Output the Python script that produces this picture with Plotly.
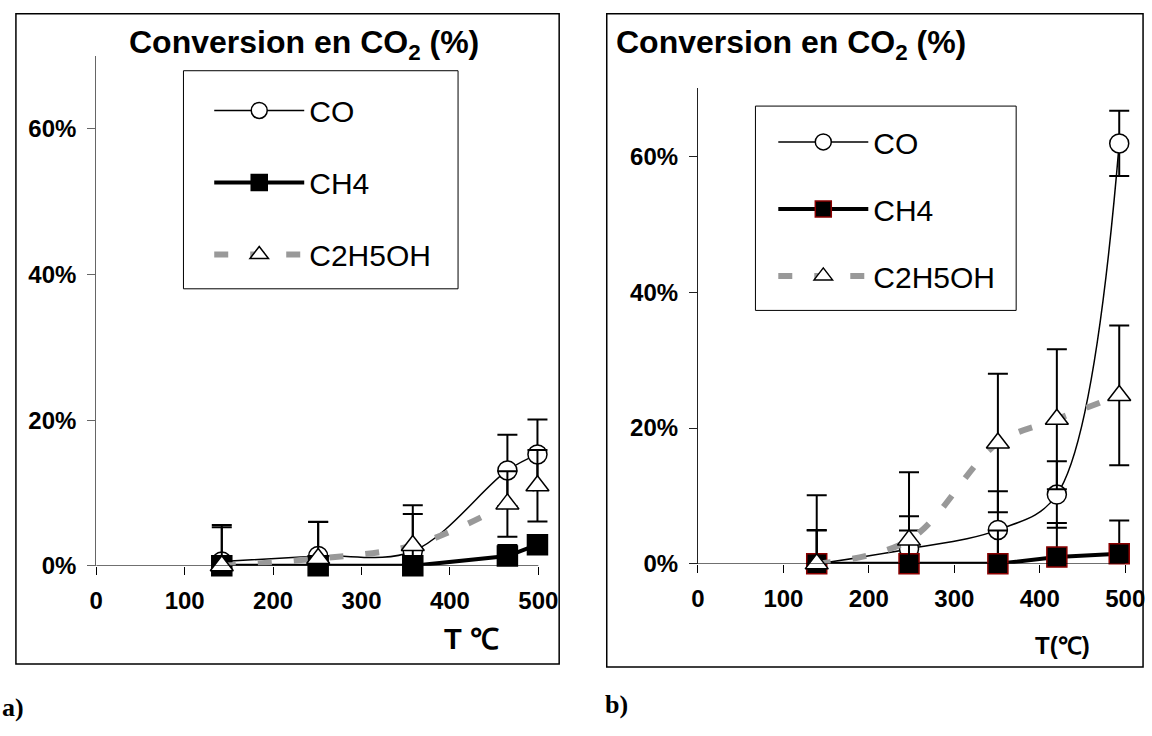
import plotly.graph_objects as go

# ---------------- data ----------------
# Panel a
T_a = [142, 251, 358, 465, 499]
co_a = [0.6, 1.35, 2.0, 13.1, 15.3]
co_a_err_plus = [5.0, 4.7, 6.3, 4.9, 4.8]
co_a_err_minus = [0.6, 1.35, 2.0, 4.9, 4.8]
ch4_a = [0.0, 0.0, 0.0, 1.35, 2.9]
ch4_a_err_plus = [0.0, 0.0, 0.0, 1.5, 1.1]
ch4_a_err_minus = [0.0, 0.0, 0.0, 1.35, 1.1]
eth_a = [0.0, 1.0, 2.8, 8.5, 11.0]
eth_a_err_plus = [5.3, 5.0, 4.3, 4.5, 4.9]
eth_a_err_minus = [0.0, 1.0, 2.8, 4.5, 4.9]

# Panel b
T_b = [139, 247, 351, 420, 493]
co_b = [0.0, 2.2, 5.0, 10.2, 61.9]
co_b_err_plus = [5.0, 4.8, 5.7, 4.9, 4.8]
co_b_err_minus = [0.0, 2.2, 5.0, 4.9, 4.8]
ch4_b = [0.0, 0.0, 0.0, 1.0, 1.5]
ch4_b_err_plus = [4.9, 4.9, 4.9, 5.0, 4.9]
ch4_b_err_minus = [0.0, 0.0, 0.0, 1.0, 1.5]
eth_b = [0.0, 3.5, 17.8, 21.3, 24.8]
eth_b_err_plus = [10.1, 10.0, 10.2, 10.3, 10.3]
eth_b_err_minus = [0.0, 3.5, 10.2, 10.3, 10.3]

series_names = ["CO", "CH4", "C2H5OH"]
x_ticks = [0, 100, 200, 300, 400, 500]
y_ticks = [0, 20, 40, 60]
y_tick_labels = ["0%", "20%", "40%", "60%"]

W, H = 1152, 736
FONT = "Liberation Sans, Arial, sans-serif"
X_MAX = 520  # a little room so the caps at T=500 are not clipped


def px_x(p):
    return p / W


def px_y(p):
    return 1 - p / H


fig = go.Figure()


def add_panel(T, co, co_p, co_m, ch4, ch4_p, ch4_m, eth, eth_p, eth_m,
              xa, ya, legend, sq_border):
    err_style = dict(type="data", symmetric=False, color="black",
                     thickness=2, width=10)
    fig.add_trace(go.Scatter(
        x=T, y=co, name=series_names[0], mode="lines+markers",
        line=dict(color="black", width=1.5, shape="spline", smoothing=1.0),
        marker=dict(symbol="circle", size=19, color="white",
                    line=dict(color="black", width=1.5)),
        error_y=dict(array=co_p, arrayminus=co_m, **err_style),
        xaxis=xa, yaxis=ya, legend=legend, legendgroup=legend + "co",
        cliponaxis=False))
    fig.add_trace(go.Scatter(
        x=T, y=ch4, name=series_names[1], mode="lines+markers",
        line=dict(color="black", width=4),
        marker=dict(symbol="square", size=20, color="black",
                    line=dict(color=sq_border, width=1.5)),
        error_y=dict(array=ch4_p, arrayminus=ch4_m, **err_style),
        xaxis=xa, yaxis=ya, legend=legend, legendgroup=legend + "ch4",
        cliponaxis=False))
    fig.add_trace(go.Scatter(
        x=T, y=eth, name=series_names[2], mode="lines+markers",
        line=dict(color="#999999", width=6, dash="14px,22px",
                  shape="spline", smoothing=1.0),
        marker=dict(symbol="triangle-up", size=20, color="white",
                    line=dict(color="black", width=1.5)),
        error_y=dict(array=eth_p, arrayminus=eth_m, **err_style),
        xaxis=xa, yaxis=ya, legend=legend, legendgroup=legend + "eth",
        cliponaxis=False))


add_panel(T_a, co_a, co_a_err_plus, co_a_err_minus, ch4_a, ch4_a_err_plus,
          ch4_a_err_minus, eth_a, eth_a_err_plus, eth_a_err_minus,
          "x", "y", "legend", "black")
add_panel(T_b, co_b, co_b_err_plus, co_b_err_minus, ch4_b, ch4_b_err_plus,
          ch4_b_err_minus, eth_b, eth_b_err_plus, eth_b_err_minus,
          "x2", "y2", "legend2", "#8b0000")

tickfont = dict(family=FONT, size=24, color="black", weight="bold")
xcommon = dict(range=[0, X_MAX], tickvals=x_ticks, showline=False,
               ticks="outside", ticklen=8, tickcolor="black", tickwidth=1,
               showgrid=False, zeroline=False, tickfont=tickfont,
               ticklabelstandoff=5)
ycommon = dict(range=[0, 70], tickvals=y_ticks, ticktext=y_tick_labels,
               showline=True, linewidth=1, ticks="outside", ticklen=8,
               showgrid=False, zeroline=False, tickfont=tickfont,
               ticklabelstandoff=6)

# axis geometry in pixels: (x of T=0, px per unit T)
ax_a = (90, (536 - 90) / 500)
ax_b = (697, (1128 - 697) / 500)

fig.update_layout(
    width=W, height=H, margin=dict(l=0, r=0, t=0, b=0),
    paper_bgcolor="white", plot_bgcolor="rgba(0,0,0,0)",
    font=dict(family=FONT, color="black"),
    xaxis=dict(domain=[px_x(ax_a[0]), px_x(ax_a[0] + X_MAX * ax_a[1])],
               anchor="y", **xcommon),
    yaxis=dict(domain=[px_y(576), px_y(57)], anchor="x",
               linecolor="#666666", tickcolor="#666666", **ycommon),
    xaxis2=dict(domain=[px_x(ax_b[0]), px_x(ax_b[0] + X_MAX * ax_b[1])],
                anchor="y2", **xcommon),
    yaxis2=dict(domain=[px_y(574), px_y(90)], anchor="x2",
                linecolor="#222222", tickcolor="#222222", **ycommon),
    legend=dict(x=px_x(204), y=px_y(86), xanchor="left", yanchor="top",
                borderwidth=0, bgcolor="rgba(0,0,0,0)",
                font=dict(family=FONT, size=30, color="black"),
                itemwidth=90, tracegroupgap=30, traceorder="grouped",
                itemsizing="trace"),
    legend2=dict(x=px_x(773), y=px_y(118), xanchor="left", yanchor="top",
                 borderwidth=0, bgcolor="rgba(0,0,0,0)",
                 font=dict(family=FONT, size=30, color="black"),
                 itemwidth=90, tracegroupgap=25, traceorder="grouped",
                 itemsizing="trace"),
    showlegend=True,
)

# x axis lines (from T=0 to T=500 only)
for xr, yr in (("x", "y"), ("x2", "y2")):
    fig.add_shape(type="line", xref=xr, yref=yr, x0=0, x1=500, y0=0, y1=0,
                  line=dict(color="black", width=1.2))

# legend boxes
fig.add_shape(type="rect", xref="paper", yref="paper", layer="below",
              x0=px_x(178), x1=px_x(455), y0=px_y(294), y1=px_y(72),
              line=dict(color="black", width=1), fillcolor="white")
fig.add_shape(type="rect", xref="paper", yref="paper", layer="below",
              x0=px_x(755), x1=px_x(1018), y0=px_y(316), y1=px_y(108),
              line=dict(color="black", width=1), fillcolor="white")

# panel frames
fig.add_shape(type="rect", xref="paper", yref="paper",
              x0=px_x(9), x1=px_x(557), y0=px_y(676), y1=px_y(14),
              line=dict(color="black", width=1.5))
fig.add_shape(type="rect", xref="paper", yref="paper",
              x0=px_x(605), x1=px_x(1146), y0=px_y(679), y1=px_y(14),
              line=dict(color="black", width=1.5))

title_font = dict(family=FONT, size=32, color="black", weight="bold")
fig.add_annotation(text="Conversion en CO<sub>2</sub> (%)", xref="paper",
                   yref="paper", x=px_x(300), y=px_y(45), xanchor="center",
                   yanchor="middle", showarrow=False, font=title_font)
fig.add_annotation(text="Conversion en CO<sub>2</sub> (%)", xref="paper",
                   yref="paper", x=px_x(612), y=px_y(45), xanchor="left",
                   yanchor="middle", showarrow=False, font=title_font)
fig.add_annotation(text="T ℃", xref="paper", yref="paper", x=px_x(469),
                   y=px_y(650), xanchor="center", yanchor="middle",
                   showarrow=False,
                   font=dict(family=FONT, size=29, color="black",
                             weight="bold"))
fig.add_annotation(text="T(℃)", xref="paper", yref="paper", x=px_x(1065),
                   y=px_y(657), xanchor="center", yanchor="middle",
                   showarrow=False,
                   font=dict(family=FONT, size=24, color="black",
                             weight="bold"))
lab_font = dict(family="Liberation Serif, Times New Roman, serif", size=26,
                color="black", weight="bold")
fig.add_annotation(text="a)", xref="paper", yref="paper", x=px_x(-7),
                   y=px_y(720), xanchor="left", yanchor="middle",
                   showarrow=False, font=lab_font)
fig.add_annotation(text="b)", xref="paper", yref="paper", x=px_x(601),
                   y=px_y(717), xanchor="left", yanchor="middle",
                   showarrow=False, font=lab_font)

fig.write_html(
    "out.html",
    config={"displayModeBar": False},
    post_script="document.documentElement.style.margin='0';"
                "document.documentElement.style.padding='0';"
                "document.documentElement.style.overflow='hidden';"
                "document.documentElement.style.height='736px';"
                "document.body.style.margin='0';"
                "document.body.style.padding='0';"
                "document.body.style.overflow='hidden';"
                "document.body.style.height='736px';")
